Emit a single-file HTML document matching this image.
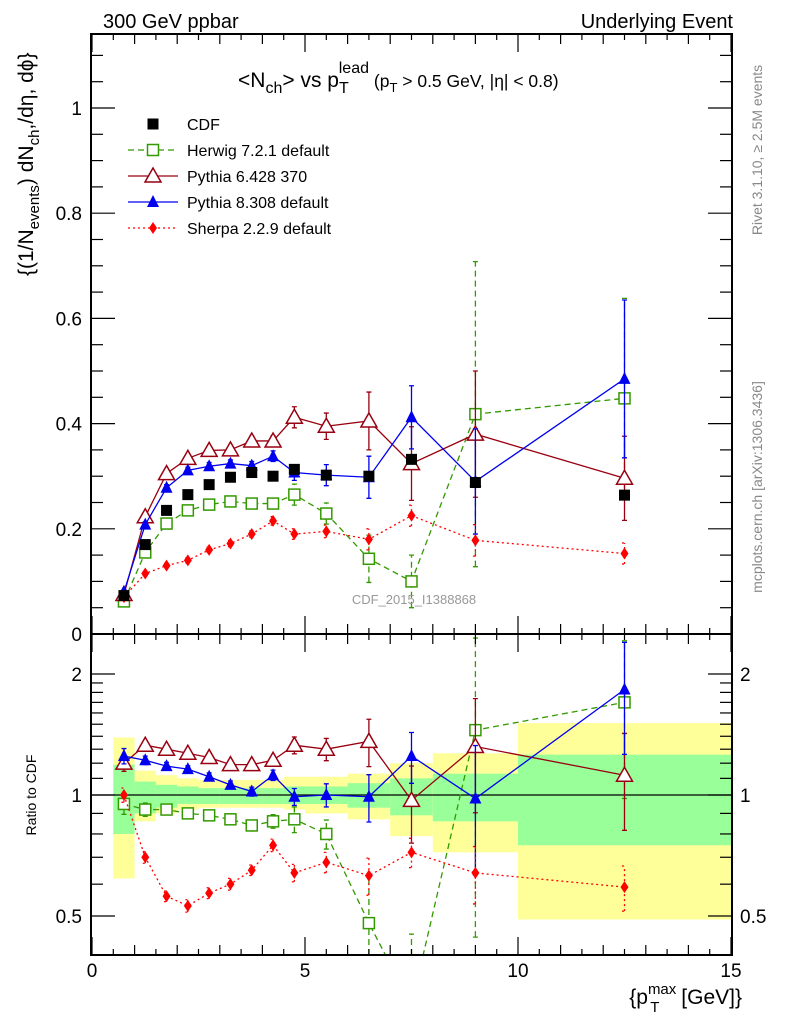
<!DOCTYPE html>
<html><head><meta charset="utf-8">
<style>
html,body{margin:0;padding:0;background:#fff;}
svg{display:block;font-family:"Liberation Sans",sans-serif;}
</style></head>
<body>
<svg id="chart" width="786" height="1024" viewBox="0 0 786 1024" xmlns="http://www.w3.org/2000/svg">
<text x="103" y="28" font-size="20">300 GeV ppbar</text>
<text x="733" y="28" font-size="20" text-anchor="end">Underlying Event</text>
<g id="bands"></g>
<g id="marks"></g>
<g id="axes"></g>
<text x="238" y="87" font-size="21">&lt;N<tspan font-size="16" dy="6">ch</tspan><tspan dy="-6">&gt; vs p</tspan><tspan font-size="16" dy="6">T</tspan><tspan font-size="16" dx="-10" dy="-20">lead</tspan><tspan font-size="17.5" dy="14"> (p</tspan><tspan font-size="13" dy="5">T</tspan><tspan font-size="17.5" dy="-5"> &gt; 0.5 GeV, |η| &lt; 0.8)</tspan></text>
<text transform="translate(33,276) rotate(-90)" font-size="21">{(1/N<tspan font-size="15" dy="6">events</tspan><tspan dy="-6">) dN</tspan><tspan font-size="15" dy="6">ch</tspan><tspan dy="-6">,/dη, dϕ}</tspan></text>
<text transform="translate(36,795) rotate(-90)" font-size="14" text-anchor="middle">Ratio to CDF</text>
<text x="742" y="1004" font-size="21" text-anchor="end">{p<tspan font-size="15" dy="-10">max</tspan><tspan font-size="15" dx="-26" dy="18">T</tspan><tspan dx="16" dy="-8"> [GeV]}</tspan></text>
<text transform="translate(762,150) rotate(-90)" font-size="14" fill="#888" text-anchor="middle">Rivet 3.1.10, ≥ 2.5M events</text>
<text transform="translate(762,487) rotate(-90)" font-size="14" fill="#888" text-anchor="middle">mcplots.cern.ch [arXiv:1306.3436]</text>
<text x="414" y="604" font-size="13" fill="#999" text-anchor="middle">CDF_2015_I1388868</text>
<g id="legend"></g>
</svg>
<script>
const xs=[0.75,1.25,1.75,2.25,2.75,3.25,3.75,4.25,4.75,5.5,6.5,7.5,9,12.5];
const cdf=[0.073,0.17,0.235,0.265,0.284,0.298,0.307,0.30,0.313,0.302,0.30,0.332,0.288,0.264];
const herwig=[0.062,0.155,0.21,0.235,0.246,0.252,0.248,0.248,0.265,0.229,0.143,0.10,0.418,0.448];
const herwigErr=[0.004,0.006,0.006,0.006,0.007,0.007,0.008,0.01,0.02,0.02,0.045,0.05,0.29,0.19];
const py6=[0.075,0.223,0.305,0.334,0.349,0.35,0.367,0.367,0.412,0.395,0.405,0.324,0.38,0.296];
const py6Err=[0.004,0.005,0.006,0.007,0.007,0.008,0.009,0.01,0.02,0.025,0.055,0.07,0.12,0.08];
const py8=[0.08,0.208,0.278,0.311,0.319,0.324,0.32,0.338,0.307,0.302,0.298,0.412,0.29,0.485];
const py8Err=[0.004,0.005,0.006,0.006,0.007,0.007,0.008,0.01,0.015,0.02,0.04,0.06,0.1,0.15];
const sherpa=[0.07,0.115,0.13,0.14,0.16,0.172,0.19,0.215,0.19,0.195,0.18,0.225,0.178,0.153];
const sherpaErr=[0.003,0.004,0.004,0.005,0.005,0.006,0.006,0.008,0.01,0.012,0.02,0.02,0.03,0.02];
const herwigR=[0.95,0.92,0.92,0.90,0.89,0.87,0.84,0.86,0.87,0.80,0.48,0.30,1.45,1.70];
const py6R=[1.2,1.33,1.30,1.27,1.24,1.19,1.19,1.22,1.33,1.30,1.36,0.97,1.32,1.12];
const py8R=[1.25,1.22,1.18,1.16,1.11,1.06,1.02,1.12,0.99,1.0,0.99,1.25,0.98,1.83];
const sherpaR=[1.0,0.70,0.56,0.53,0.57,0.60,0.65,0.75,0.64,0.68,0.63,0.72,0.64,0.59];
const binEdges=[0.5,1,1.5,2,2.5,3,3.5,4,4.5,5,6,7,8,10,15];
const yellowLo=[0.62,0.86,0.90,0.92,0.93,0.93,0.93,0.93,0.92,0.90,0.87,0.79,0.72,0.49];
const yellowHi=[1.39,1.15,1.12,1.10,1.09,1.09,1.09,1.09,1.11,1.11,1.13,1.20,1.27,1.51];
const greenLo=[0.80,0.90,0.93,0.95,0.95,0.95,0.95,0.95,0.95,0.95,0.93,0.89,0.86,0.75];
const greenHi=[1.19,1.08,1.06,1.05,1.04,1.04,1.04,1.04,1.05,1.05,1.07,1.10,1.13,1.26];
const mainTicks=[0,0.2,0.4,0.6,0.8,1];
const mainTickLabels=["0","0.2","0.4","0.6","0.8","1"];
const xTicks=[0,5,10,15];
const xTickLabels=["0","5","10","15"];
const ratioTicks=[0.5,1,2];
const ratioTickLabels=["0.5","1","2"];

const NS="http://www.w3.org/2000/svg";
const L=91,R=732,T=34,MB=634,RB=955;
const X=v=>92+v*(731-92)/15;
const Y=v=>634-v*526;
const YR=r=>795-121*Math.log2(r);
function mk(tag,at,parent){const e=document.createElementNS(NS,tag);for(const k in at)e.setAttribute(k,at[k]);parent.appendChild(e);return e;}
const bands=document.getElementById('bands'),marks=document.getElementById('marks'),axes=document.getElementById('axes'),legend=document.getElementById('legend');

for(let i=0;i<binEdges.length-1;i++){
  const x0=X(binEdges[i]),x1=X(binEdges[i+1]);
  const y=mk('rect',{x:x0,y:YR(yellowHi[i]),width:x1-x0,height:YR(yellowLo[i])-YR(yellowHi[i]),fill:'#ffff99'},bands);
  
  
  const g=mk('rect',{x:x0,y:YR(greenHi[i]),width:x1-x0,height:YR(greenLo[i])-YR(greenHi[i]),fill:'#99ff99'},bands);
  
  
}
const ref=mk('line',{x1:L,x2:R,y1:YR(1),y2:YR(1),stroke:'#000','stroke-width':1.2},bands);



function marker(type,x,y,color,parent){
  let e;
  if(type==='sq') e=mk('rect',{x:x-5.5,y:y-5.5,width:11,height:11,fill:color},parent);
  else if(type==='osq') e=mk('rect',{x:x-5.5,y:y-5.5,width:11,height:11,fill:'#fff',stroke:color,'stroke-width':1.5},parent);
  else if(type==='otri') e=mk('polygon',{points:`${x},${y-8} ${x-8},${y+6} ${x+8},${y+6}`,fill:'#fff',stroke:color,'stroke-width':1.5},parent);
  else if(type==='tri') e=mk('polygon',{points:`${x},${y-7} ${x-6},${y+5} ${x+6},${y+5}`,fill:color},parent);
  else e=mk('polygon',{points:`${x},${y-6} ${x+4},${y} ${x},${y+6} ${x-4},${y}`,fill:color},parent);
  return e;
}
function clipY(v,top,bot){return Math.max(top,Math.min(bot,v));}
function series(name,vals,errs,ratios,base,type,color,dash,drawLine){
  const g=mk('g',{},marks);
  
  
  const panels=[{v:vals.map(Y),e:i=>[Y(vals[i]-errs[i]),Y(vals[i]+errs[i])],top:T,bot:MB},
    {v:ratios.map(YR),e:i=>{const rel=errs[i]/base[i];return[YR(Math.max(0.05,ratios[i]-rel)),YR(ratios[i]+rel)];},top:MB,bot:RB}];
  panels.forEach((p,pi)=>{
    if(drawLine){
      const pts=xs.map((x,i)=>X(x)+','+p.v[i]).join(' ');
      const pl=mk('polyline',{points:pts,fill:'none',stroke:color,'stroke-width':1.3,'stroke-dasharray':dash},g);
      pl.setAttribute('clip-path',pi===0?'url(#cm)':'url(#cr)');
      
      
    }
    xs.forEach((x,i)=>{
      if(errs){
        const [a,b]=p.e(i);const ya=clipY(a,p.top,p.bot),yb=clipY(b,p.top,p.bot);
        if(Math.abs(ya-yb)>4){
          const eb=mk('path',{d:`M${X(x)},${ya}V${yb}M${X(x)-2.5},${ya}h5M${X(x)-2.5},${yb}h5`,stroke:color,'stroke-width':1.3,fill:'none','stroke-dasharray':dash},g);
          
          
        }
      }
      if(p.v[i]>p.top&&p.v[i]<p.bot){
        const m=marker(type,X(x),p.v[i],color,g);
        
        
      }
    });
  });
}
const defs=mk('defs',{},document.getElementById('chart'));
const c1=mk('clipPath',{id:'cm'},defs);mk('rect',{x:L,y:T,width:R-L,height:MB-T},c1);
const c2=mk('clipPath',{id:'cr'},defs);mk('rect',{x:L,y:MB,width:R-L,height:RB-MB},c2);

series('herwig',herwig,herwigErr,herwigR,cdf,'osq','#339900','6,4',true);
series('pythia6',py6,py6Err,py6R,cdf,'otri','#990011','',true);
series('pythia8',py8,py8Err,py8R,cdf,'tri','#0000ee','',true);
series('sherpa',sherpa,sherpaErr,sherpaR,cdf,'dia','#ff0000','2,3',true);
const cg=mk('g',{},marks);


xs.forEach((x,i)=>{const m=marker('sq',X(x),Y(cdf[i]),'#000',cg);
  
  });

[[T,MB],[MB,RB]].forEach(([t,b])=>{const f=mk('rect',{x:L,y:t,width:R-L,height:b-t,fill:'none',stroke:'#000','stroke-width':2},axes);
  
  });
for(let v=0;v<=15.01;v+=0.5){
  const major=Math.abs(v%5)<0.01,mid=Math.abs(v%1)<0.01;const len=major?18:(mid?10:6);
  [[T,1],[MB,-1],[MB,1],[RB,-1]].forEach(([y0,d])=>mk('line',{x1:X(v),x2:X(v),y1:y0,y2:y0+d*len,stroke:'#000','stroke-width':1.2},axes));
}
xTicks.forEach((v,i)=>{const t=mk('text',{x:X(v),y:977,'font-size':19,'text-anchor':'middle'},axes);t.textContent=xTickLabels[i];
  
  });
for(let v=0;v<=1.101;v+=0.05){
  const major=Math.abs((v*10)%2)<0.01||Math.abs((v*10)%2-2)<0.01;const len=major?24:12;
  mk('line',{x1:L,x2:L+len,y1:Y(v),y2:Y(v),stroke:'#000','stroke-width':1.2},axes);
  mk('line',{x1:R,x2:R-len,y1:Y(v),y2:Y(v),stroke:'#000','stroke-width':1.2},axes);
}
mainTicks.forEach((v,i)=>{const t=mk('text',{x:82,y:Y(v)+7,'font-size':19,'text-anchor':'end'},axes);t.textContent=mainTickLabels[i];
  
  });
const minor=[0.5,0.6,0.7,0.8,0.9,1,1.1,1.2,1.3,1.4,1.5,1.6,1.7,1.8,1.9,2];
minor.forEach(v=>{const major=ratioTicks.includes(v);const len=major?24:12;
  mk('line',{x1:L,x2:L+len,y1:YR(v),y2:YR(v),stroke:'#000','stroke-width':1.2},axes);
  mk('line',{x1:R,x2:R-len,y1:YR(v),y2:YR(v),stroke:'#000','stroke-width':1.2},axes);});
ratioTicks.forEach((v,i)=>{
  const t=mk('text',{x:82,y:YR(v)+7,'font-size':19,'text-anchor':'end'},axes);t.textContent=ratioTickLabels[i];
  
  
  const t2=mk('text',{x:740,y:YR(v)+7,'font-size':19},axes);t2.textContent=ratioTickLabels[i];
  
  });

const leg=[['CDF','sq','#000','',false],['Herwig 7.2.1 default','osq','#339900','6,4',true],['Pythia 6.428 370','otri','#990011','',true],['Pythia 8.308 default','tri','#0000ee','',true],['Sherpa 2.2.9 default','dia','#ff0000','2,3',true]];
leg.forEach((l,i)=>{const y=124+i*26;const g=mk('g',{},legend);
  
  
  if(l[4]){mk('line',{x1:128,x2:178,y1:y,y2:y,stroke:l[2],'stroke-width':1.3,'stroke-dasharray':l[3]},g);}
  marker(l[1],153,y,l[2],g);
  const t=mk('text',{x:187,y:y+6,'font-size':16},g);t.textContent=l[0];});
</script>
</body></html>
